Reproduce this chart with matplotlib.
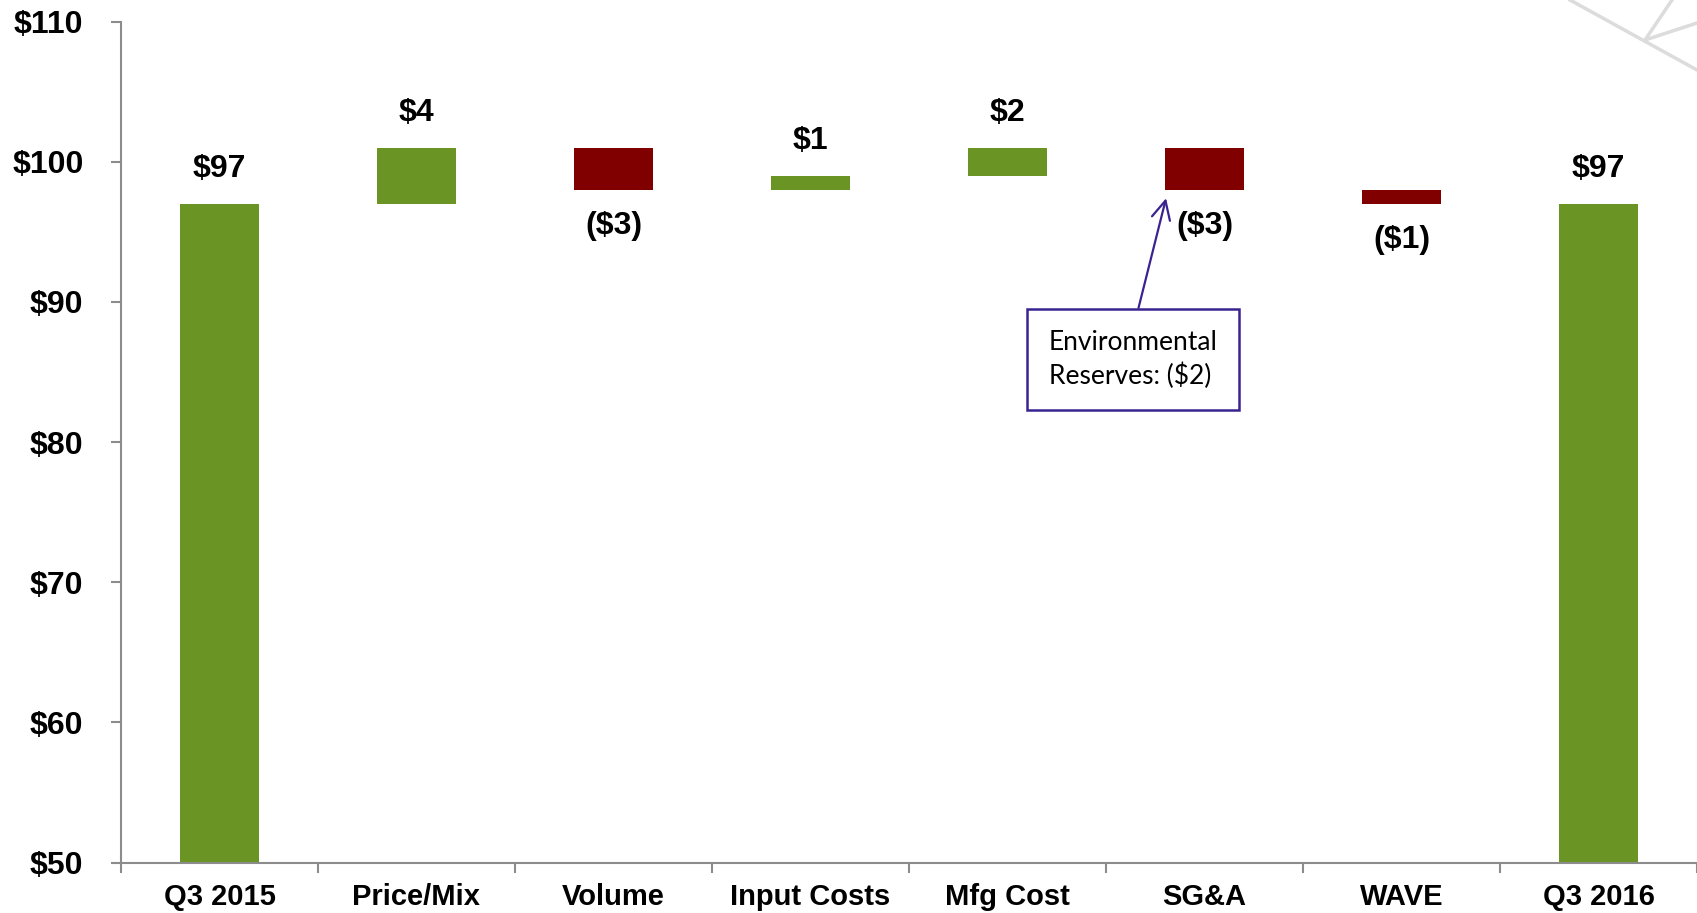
import numpy as np
import matplotlib.pyplot as plt
from matplotlib.lines import Line2D

# waterfall data ($ per share style bridge)
categories = ["Q3 2015", "Price/Mix", "Volume", "Input Costs", "Mfg Cost", "SG&A", "WAVE", "Q3 2016"]
start_value = 97
deltas = [4, -3, 1, 2, -3, -1]
end_value = 97
y_ticks = [50, 60, 70, 80, 90, 100, 110]

GREEN = "#6A9423"
RED = "#800000"

plt.rcParams["font.family"] = ["Liberation Sans", "DejaVu Sans"]

fig = plt.figure(figsize=(16.97, 9.13), dpi=100)
ax = fig.add_axes([0.0713, 0.0553, 0.9287, 0.921])

# build bar heights/bottoms from the deltas
heights = [start_value]
bottoms = [0]
level = start_value
for d in deltas:
    heights.append(abs(d))
    bottoms.append(level if d > 0 else level + d)
    level += d
heights.append(end_value)
bottoms.append(0)
signed = [start_value] + deltas + [end_value]
colors = [GREEN if v > 0 else RED for v in signed]

x = np.arange(len(categories))
ax.bar(x, heights, bottom=bottoms, width=0.4, color=colors, zorder=2)

# value labels
for i, v in enumerate(signed):
    label = "${}".format(v) if v > 0 else "(${})".format(-v)
    if v > 0:
        ax.annotate(label, (x[i], bottoms[i] + heights[i]), xytext=(0, 25),
                    textcoords="offset points", ha="center", va="center",
                    fontsize=23, fontweight="bold")
    else:
        ax.annotate(label, (x[i], bottoms[i]), xytext=(0, -26),
                    textcoords="offset points", ha="center", va="center",
                    fontsize=23, fontweight="bold")

# callout for SG&A
ax.annotate("Environmental\nReserves: ($2)", xy=(4.805, 97.4), xytext=(4.637, 85.9),
            ha="center", va="center", multialignment="left", linespacing=1.35,
            fontsize=19, family=["Lato", "DejaVu Sans"],
            bbox=dict(boxstyle="square,pad=0.8", fc="white", ec="#3A2390", lw=1.8),
            arrowprops=dict(arrowstyle="->,head_length=0.7,head_width=0.35", color="#3A2390",
                            lw=1.6, relpos=(0.5, 1.0), shrinkA=0, shrinkB=0))

ax.set_xlim(-0.5, len(categories) - 0.5)
ax.set_ylim(50, 110)
ax.set_yticks(y_ticks)
ax.set_yticklabels(["${}".format(t) for t in y_ticks], fontsize=23, fontweight="bold")
ax.set_xticks(x)
ax.set_xticklabels(categories, fontsize=21, fontweight="bold")
ax.set_xticks(np.arange(-0.5, len(categories), 1.0), minor=True)
ax.tick_params(axis="x", which="major", length=0, pad=15)
ax.tick_params(axis="x", which="minor", length=7, width=1.5, color="#8C8C8C")
ax.tick_params(axis="y", length=7, width=1.5, color="#8C8C8C", pad=20)

for s in ["top", "right"]:
    ax.spines[s].set_visible(False)
for s in ["left", "bottom"]:
    ax.spines[s].set_color("#8C8C8C")
    ax.spines[s].set_linewidth(1.5)

# light decorative lines in the top-right corner
W, H = 1697.0, 913.0
for (x0, y0), (x1, y1) in [((1570, 0), (1697, 70)), ((1645, 40), (1672, 0)), ((1645, 40), (1697, 23))]:
    fig.add_artist(Line2D([x0 / W, x1 / W], [1 - y0 / H, 1 - y1 / H], color="#DCDCDC", lw=2.5))

fig.savefig("out.png", dpi=100)
